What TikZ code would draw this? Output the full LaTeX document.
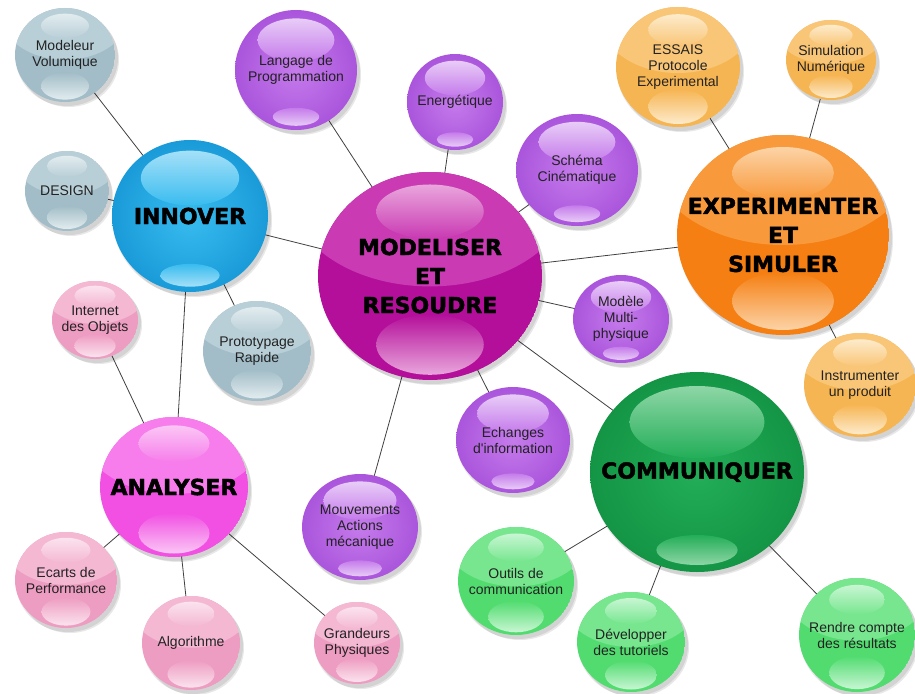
\documentclass[tikz,border=0pt]{standalone}
\usepackage{fontspec}
\setmainfont{Liberation Sans}
\newfontfamily\bigf[FakeBold=2]{DejaVu Sans Bold}
\usetikzlibrary{calc}
\pgfdeclarelayer{bg}
\pgfsetlayers{bg,main}

\definecolor{gryD}{HTML}{A2BDC7}\definecolor{gryL}{HTML}{B9CFD7}\definecolor{gryH}{HTML}{E2ECEF}
\definecolor{bluD}{HTML}{1A9BD9}\definecolor{bluL}{HTML}{38BCEF}\definecolor{bluH}{HTML}{A5E0F8}
\definecolor{magD}{HTML}{B40F9A}\definecolor{magL}{HTML}{C93AB3}\definecolor{magH}{HTML}{E9A6DC}
\definecolor{purD}{HTML}{AA55DC}\definecolor{purL}{HTML}{C57BEB}\definecolor{purH}{HTML}{E8CCF7}
\definecolor{orgD}{HTML}{F57F12}\definecolor{orgL}{HTML}{F89A3C}\definecolor{orgH}{HTML}{FCD3A6}
\definecolor{lorD}{HTML}{F6B553}\definecolor{lorL}{HTML}{F9C678}\definecolor{lorH}{HTML}{FDEBCB}
\definecolor{grnD}{HTML}{139545}\definecolor{grnL}{HTML}{23AE58}\definecolor{grnH}{HTML}{8ED6A6}
\definecolor{lgrD}{HTML}{52DC70}\definecolor{lgrL}{HTML}{77E68F}\definecolor{lgrH}{HTML}{C8F6D3}
\definecolor{pnkD}{HTML}{F150E3}\definecolor{pnkL}{HTML}{F67DEB}\definecolor{pnkH}{HTML}{FBC6F5}
\definecolor{lpkD}{HTML}{EE9DC2}\definecolor{lpkL}{HTML}{F4B8D3}\definecolor{lpkH}{HTML}{FBE3EE}
\definecolor{linec}{HTML}{404040}
\definecolor{txt}{HTML}{222222}

\tikzset{
  conn/.style={draw=linec, line width=0.8pt},
  smalltxt/.style={align=center, font=\fontsize{14pt}{16pt}\selectfont, text=txt, inner sep=0pt},
  bigtxt/.style={align=center, font=\bigf\fontsize{22pt}{29pt}\selectfont, text=black, inner sep=0pt},
  shadowfill/.style={black, opacity=0.09},
}

% style A: two-tone with equal highlights
\newcommand\bubA[8]{%
  \fill[shadowfill] (#2+2,#3+3) ellipse [x radius=#4pt+1pt, y radius=#5pt+1pt];
  \fill[shadowfill] (#2+4,#3+5) ellipse [x radius=#4pt, y radius=#5pt];
  \begin{scope}
    \clip (#2,#3) ellipse [x radius=#4pt, y radius=#5pt];
    \fill[#6D] (#2,#3) ellipse [x radius=#4pt, y radius=#5pt];
    \fill[#6L] (#2,#3-0.8*#5) ellipse [x radius=1.25*#4pt, y radius=0.9*#5pt];
    \shade[top color=#6H, bottom color=#6L] (#2,#3-0.62*#5) ellipse [x radius=0.48*#4pt, y radius=0.26*#5pt];
    \shade[top color=#6D, bottom color=#6H] (#2,#3+0.66*#5) ellipse [x radius=0.48*#4pt, y radius=0.29*#5pt];
  \end{scope}
  \node[#7] (#1) at (#2,#3) {#8};
}
% style B: radial with wide top highlight, small bottom one
\newcommand\bubB[8]{%
  \fill[shadowfill] (#2+2,#3+3) ellipse [x radius=#4pt+1pt, y radius=#5pt+1pt];
  \fill[shadowfill] (#2+4,#3+5) ellipse [x radius=#4pt, y radius=#5pt];
  \begin{scope}
    \clip (#2,#3) ellipse [x radius=#4pt, y radius=#5pt];
    \shade[inner color=#6L, outer color=#6D] (#2,#3) ellipse [x radius=#4pt, y radius=#5pt];
    \shade[top color=#6H, bottom color=#6L] (#2,#3-0.5*#5) ellipse [x radius=0.63*#4pt, y radius=0.36*#5pt];
    \shade[top color=#6L, bottom color=#6H] (#2,#3+0.78*#5) ellipse [x radius=0.38*#4pt, y radius=0.15*#5pt];
  \end{scope}
  \node[#7] (#1) at (#2,#3) {#8};
}

\begin{document}
\begin{tikzpicture}[x=1pt,y=-1pt]
\useasboundingbox (0,0) rectangle (915,693);

\bubA{modv}{65}{55}{50}{47}{gry}{smalltxt}{Modeleur\\Volumique}
\bubA{design}{67}{191}{42}{40}{gry}{smalltxt}{DESIGN}
\bubA{proto}{257}{351}{54}{50}{gry}{smalltxt}{Prototypage\\Rapide}
\bubB{lang}{296}{70}{61}{60}{pur}{smalltxt}{Langage de\\Programmation}
\bubB{ener}{455}{102}{48}{48}{pur}{smalltxt}{Energétique}
\bubB{schema}{577}{170}{61}{56}{pur}{smalltxt}{Schéma\\Cinématique}
\bubB{innov}{190}{216}{78}{76}{blu}{bigtxt}{INNOVER}
\bubA{model}{430}{276}{112}{104}{mag}{bigtxt}{MODELISER\\ET\\RESOUDRE}
\bubA{essais}{678}{67}{62}{60}{lor}{smalltxt}{ESSAIS\\Protocole\\Experimental}
\bubA{simu}{831}{60}{45}{40}{lor}{smalltxt}{Simulation\\Numérique}
\bubA{exper}{783}{235}{106}{100}{org}{bigtxt}{EXPERIMENTER\\ET\\SIMULER}
\bubB{multi}{621}{319}{48}{44}{pur}{smalltxt}{Modèle\\Multi-\\physique}
\bubA{instr}{860}{385}{56}{52}{lor}{smalltxt}{Instrumenter\\un produit}
\bubB{echg}{513}{440}{57}{53}{pur}{smalltxt}{Echanges\\d\textquotesingle information}
\bubB{mouv}{360}{527}{58}{53}{pur}{smalltxt}{Mouvements\\Actions\\mécanique}
\bubA{internet}{95}{320}{43}{39}{lpk}{smalltxt}{Internet\\des Objets}
\bubA{analy}{174}{487}{74}{70}{pnk}{bigtxt}{ANALYSER}
\bubA{ecarts}{66}{580}{51}{48}{lpk}{smalltxt}{Ecarts de\\Performance}
\bubA{algo}{191}{643}{49}{47}{lpk}{smalltxt}{Algorithme}
\bubA{grand}{357}{643}{43}{41}{lpk}{smalltxt}{Grandeurs\\Physiques}
\bubB{comm}{697}{472}{107}{100}{grn}{bigtxt}{COMMUNIQUER}
\bubA{outils}{516}{581}{58}{54}{lgr}{smalltxt}{Outils de\\communication}
\bubA{dev}{631}{642}{54}{50}{lgr}{smalltxt}{Développer\\des tutoriels}
\bubA{rendre}{857}{635}{58}{57}{lgr}{smalltxt}{Rendre compte\\des résultats}

\begin{pgfonlayer}{bg}
  \fill[white] (0,0) rectangle (915,693);
  \foreach \a/\b in {modv/innov, design/innov, innov/model, innov/proto, innov/analy,
    lang/model, ener/model, schema/model, model/exper, model/multi, model/comm,
    model/echg, model/mouv, essais/exper, simu/exper, exper/instr,
    comm/outils, comm/dev, comm/rendre, internet/analy, analy/ecarts,
    analy/algo, analy/grand}
    \draw[conn] (\a.center) -- (\b.center);
\end{pgfonlayer}
\end{tikzpicture}
\end{document}
